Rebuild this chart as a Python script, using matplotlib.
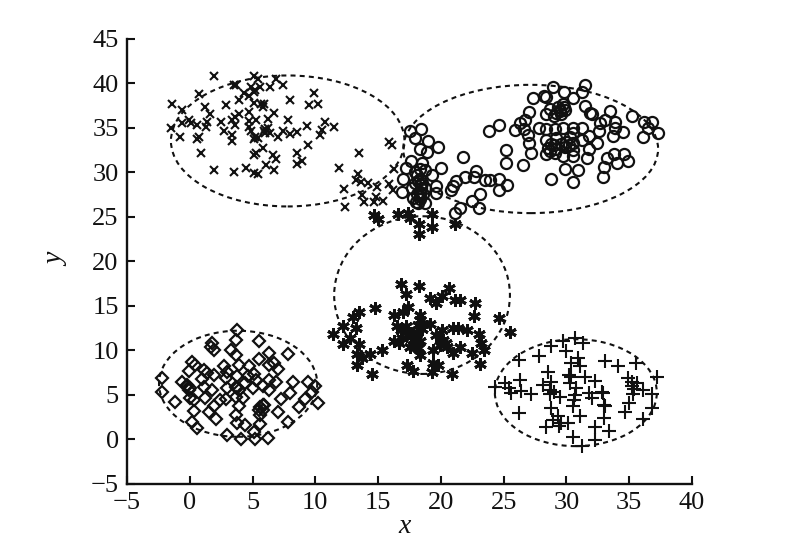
import matplotlib
matplotlib.use("Agg")
import matplotlib.pyplot as plt
from matplotlib.patches import Ellipse

cross_x = [1.9,5.1,5.4,6.9,7.4,3.5,3.7,6.4,5.6,4.9,5.2,4.3,5.1,4.7,0.7,3.9,9.9,8.0,-1.4,-0.6,1.2,2.9,5.1,5.7,5.9,5.8,9.5,10.2,1.6,6.7,4.7,3.9,3.6,3.4,-0.1,-0.6,0.1,0.6,1.4,1.3,2.5,3.6,5.3,6.2,7.8,4.7,4.7,10.8,9.3,11.5,-1.5,2.7,3.4,3.4,-0.8,0.7,0.6,4.9,5.2,5.1,5.4,6.0,6.4,7.0,7.4,8.0,8.5,10.5,10.4,9.4,15.9,16.1,0.9,5.8,5.3,5.1,6.6,6.9,8.5,8.9,8.5,13.5,1.9,3.5,4.5,5.1,5.4,6.1,6.7,11.9,16.3,13.4,13.2,13.6,14.2,14.9,12.3,15.9,16.2,13.7,14.8,13.9,14.7,15.4,12.4,5.9,6.2,6.0]
cross_y = [40.8,40.8,40.5,40.5,39.8,39.8,39.8,39.6,39.6,39.6,39.2,38.9,39.0,38.6,38.8,38.1,38.9,38.1,37.6,37.0,37.3,37.5,37.8,37.7,37.7,37.3,37.5,37.6,36.5,36.6,36.7,36.5,36.2,35.8,35.9,35.5,35.5,35.3,35.6,35.1,35.6,35.3,35.9,36.0,35.9,35.7,35.1,35.6,35.2,35.1,35.0,34.6,34.2,33.5,34.0,34.0,33.7,34.6,34.0,33.7,33.8,34.8,34.4,34.0,34.6,34.3,34.5,34.7,34.2,33.0,33.4,33.0,32.2,32.7,32.2,31.9,31.9,31.5,32.2,31.3,30.9,32.1,30.2,30.0,30.5,29.9,29.8,30.8,30.2,30.5,30.4,29.8,29.1,28.9,28.8,28.3,28.1,28.7,28.0,27.4,27.2,26.7,26.6,26.8,26.1,34.6,34.9,34.4]

circle_x = [17.5,18.4,17.9,19.0,19.8,18.3,18.9,21.8,20.0,17.6,18.5,17.2,19.3,18.1,18.3,17.0,17.7,18.7,19.6,19.6,16.9,17.8,18.3,18.2,18.7,18.4,18.3,17.9,20.8,21.0,21.2,21.9,22.8,22.6,23.5,23.9,24.6,25.3,24.6,23.1,22.5,21.5,21.1,23.0,23.8,24.6,25.2,25.2,26.5,28.8,30.5,29.9,30.9,32.9,33.0,33.2,34.0,33.8,34.6,34.9,25.9,26.3,26.7,26.6,26.9,27.0,27.2,27.0,27.3,28.2,28.4,28.9,29.8,30.5,31.2,31.5,31.5,31.9,32.0,33.5,35.2,36.2,36.8,33.1,32.7,33.9,32.6,34.5,33.7,33.9,36.1,37.3,36.5,28.4,28.7,29.7,29.5,29.9,29.0,29.2,29.6,27.8,28.4,29.1,29.7,30.5,31.2,28.4,29.2,30.3,30.5,31.2,31.8,32.4,31.8,31.6,28.4,29.1,29.7,30.5,30.5,29.9,28.5,30.5,29.0,18.2,18.5,18.4,18.1,18.6,18.3,18.0,17.9,18.7,18.3,28.7,29.2,29.6,30.0,30.2,28.8,29.5,29.8,29.3]
circle_y = [34.6,34.8,33.8,33.5,32.8,32.6,32.3,31.7,30.5,31.3,31.0,30.5,29.7,29.7,29.2,29.2,28.2,28.2,28.4,27.7,27.8,27.1,27.3,26.5,26.5,28.6,27.8,28.8,28.0,28.5,29.0,29.5,30.1,29.5,29.1,29.1,29.2,28.6,28.0,27.6,26.8,26.0,25.4,26.0,34.6,35.3,32.5,31.0,30.8,29.2,28.9,30.4,30.2,29.5,30.6,31.6,31.0,32.0,32.0,31.2,34.7,35.5,35.8,34.8,34.2,33.3,32.2,36.8,38.3,38.5,38.4,39.6,39.0,38.3,39.0,39.8,37.4,36.6,36.5,36.9,36.3,35.6,35.6,35.9,35.5,35.6,34.6,34.5,34.1,35.0,33.9,34.4,35.0,36.5,37.1,37.6,37.0,37.0,36.3,36.6,36.5,34.9,34.8,34.8,35.0,35.0,35.0,33.6,33.8,34.0,34.4,33.6,34.1,33.3,32.6,31.6,32.0,32.2,31.8,31.8,32.5,32.8,32.7,33.3,33.1,29.0,28.8,28.2,27.6,27.6,27.0,26.7,30.0,30.2,30.3,32.4,32.6,33.2,33.4,33.0,33.2,36.9,37.3,37.3]

diamond_x = [3.8,3.7,5.5,1.8,1.7,1.9,3.3,3.65,6.3,7.8,5.5,0.15,0.4,1.1,1.4,-0.1,2.7,3.0,3.9,4.7,6.3,6.7,7.05,1.9,-2.2,1.0,-0.65,-0.25,2.9,3.8,4.6,5.1,5.3,6.3,6.9,8.2,9.4,9.97,3.0,3.8,4.4,5.0,5.8,6.3,1.8,1.1,-0.1,-2.2,-1.2,0.0,0.3,1.2,2.4,2.9,3.7,4.2,8.0,7.3,9.2,9.7,10.2,8.7,7.05,5.8,5.5,5.85,3.9,1.9,1.5,2.1,0.3,3.65,5.6,7.8,0.15,0.55,3.8,4.4,5.6,3.0,4.1,5.1,5.2,6.2,-0.2,0.0,3.7,3.9,5.6,5.9]
diamond_y = [12.3,11.2,11.0,10.8,10.4,10.0,10.0,9.5,9.7,9.6,9.0,8.7,8.4,7.8,7.5,7.7,8.2,7.6,8.3,8.2,8.3,8.6,7.9,7.2,6.9,6.8,6.5,6.1,6.9,7.1,7.1,7.4,6.7,6.7,6.5,6.5,6.5,6.0,5.75,5.75,6.3,5.75,6.0,5.6,5.6,5.9,5.6,5.3,4.25,4.7,4.4,4.7,4.4,4.5,4.8,4.7,5.2,4.5,4.5,5.3,4.1,3.6,3.1,3.9,3.3,3.3,3.7,3.7,3.1,2.3,3.2,2.75,2.75,2.0,2.0,1.25,1.8,1.6,1.7,0.5,0.1,0.8,0.0,0.2,6.0,5.8,5.9,5.6,3.6,3.9]

star_x = [14.7,15.0,16.55,17.4,17.5,19.3,18.25,19.3,18.25,21.1,16.8,18.25,20.65,17.2,20.05,21.1,21.5,22.7,19.1,19.65,14.75,13.5,13.0,17.4,17.0,16.3,18.3,18.3,22.6,24.6,12.2,13.2,16.5,17.2,19.1,11.4,25.5,20.05,21.0,21.4,22.1,23.0,12.75,12.2,13.5,16.3,16.9,17.5,18.1,17.8,18.3,19.65,20.2,20.45,21.5,23.2,23.45,15.3,13.3,14.35,13.7,13.3,18.2,18.3,19.4,21.0,22.45,23.1,17.3,17.8,19.4,19.8,19.3,20.85,14.5,18.1,17.5,16.7,17.6,18.0,17.9,17.3,18.5,16.8,18.6,18.2,20.0,20.4,19.9]
star_y = [25.2,24.7,25.3,25.4,24.85,25.3,24.2,23.8,23.05,24.2,17.5,17.2,17.0,16.35,16.1,15.7,15.6,15.3,15.9,15.3,14.7,14.25,13.7,14.9,14.35,14.0,14.0,13.4,13.9,13.6,12.75,12.5,12.75,12.75,13.0,11.85,12.1,12.3,12.5,12.5,12.3,11.8,11.35,10.7,10.7,11.0,11.35,11.9,11.9,11.2,11.0,11.7,11.2,10.4,10.4,10.8,10.05,10.05,9.6,9.6,9.1,8.4,10.25,9.5,10.05,9.7,9.75,8.45,8.35,7.7,8.6,8.35,7.6,7.35,7.35,10.4,10.4,10.8,11.6,11.5,10.8,12.2,12.4,12.3,13.0,12.8,11.0,10.8,10.6]

plus_x = [30.7,29.7,31.3,28.8,29.95,27.8,26.2,30.9,30.4,31.05,33.1,34.1,35.5,28.55,30.2,31.45,34.9,37.25,26.3,32.3,35.2,24.3,25.1,25.4,28.15,28.8,30.3,30.8,35.6,36.1,25.55,26.4,27.2,28.7,29.5,30.7,31.8,32.8,32.0,35.3,36.8,35.0,33.05,28.8,30.5,26.2,34.7,36.85,31.05,29.35,33.0,36.1,29.6,28.4,30.1,32.3,33.4,29.4,30.5,32.3,31.2,28.9,28.7,29.0,30.4,30.6,35.2,35.4,32.9,33.0]
plus_y = [11.4,11.0,10.8,10.5,9.9,9.4,8.9,9.1,8.6,8.2,8.75,8.2,8.6,7.6,7.25,7.05,6.9,7.05,6.7,6.6,6.5,5.9,6.3,5.75,6.1,6.5,6.3,5.75,6.3,5.6,5.2,5.4,5.1,5.1,4.75,5.0,5.2,5.3,4.6,5.1,5.1,4.1,3.8,3.5,3.7,2.95,3.1,3.5,2.65,2.6,2.4,2.3,1.8,1.4,1.8,1.4,1.0,1.5,0.3,-0.1,-0.75,2.2,5.5,5.3,7.0,4.4,6.0,5.7,5.2,3.9]

ell_cx = [7.8, 27.15, 3.85, 18.5, 30.75]
ell_cy = [33.5, 32.6, 6.25, 16.2, 5.25]
ell_w = [18.6, 20.3, 12.6, 14.0, 12.9]
ell_h = [14.7, 14.4, 11.9, 17.7, 12.0]

x_ticks = [-5, 0, 5, 10, 15, 20, 25, 30, 35, 40]
y_ticks = [-5, 0, 5, 10, 15, 20, 25, 30, 35, 40, 45]

plt.rcParams["font.family"] = ["Liberation Serif", "DejaVu Serif"]
fig = plt.figure(figsize=(8, 5.4), dpi=100)
ax = fig.add_axes([127/800, 56/540, 565/800, 445.5/540])

for cx, cy, w, h in zip(ell_cx, ell_cy, ell_w, ell_h):
    ax.add_patch(Ellipse((cx, cy), w, h, fill=False, ec="#111111", lw=1.5,
                         ls=(0, (2.4, 2.0)), zorder=1))

mk = dict(ls="none", color="#111111", zorder=2, clip_on=False)
ax.plot(cross_x, cross_y, marker="x", ms=5.2, mew=1.5, **mk)
ax.plot(circle_x, circle_y, marker="o", ms=8, mew=1.6, mfc="none", **mk)
ax.plot(diamond_x, diamond_y, marker="D", ms=6.2, mew=1.6, mfc="none", **mk)
ax.plot(star_x, star_y, marker=(6, 2, 0), ms=9, mew=2.1, **mk)
ax.plot(plus_x, plus_y, marker="+", ms=9.5, mew=1.5, **mk)

ax.set_xlim(-5, 40)
ax.set_ylim(-5, 45)
ax.set_xticks(x_ticks)
ax.set_yticks(y_ticks)
ax.set_xticklabels([str(v).replace("-", "\u2212") for v in x_ticks])
ax.set_yticklabels([str(v).replace("-", "\u2212") for v in y_ticks])
ax.tick_params(direction="in", length=6, width=1.5, color="#111111",
               labelsize=19, labelcolor="#111111", pad=6)
for s in ("top", "right"):
    ax.spines[s].set_visible(False)
for s in ("left", "bottom"):
    ax.spines[s].set_linewidth(1.7)
    ax.spines[s].set_color("#111111")

ax.set_xlabel("x", style="italic", fontsize=20, color="#111111", va="center")
ax.xaxis.set_label_coords(0.492, -0.0965)
ax.set_ylabel("y", style="italic", fontsize=20, color="#111111", va="center")
ax.yaxis.set_label_coords(-0.124, 0.503)

fig.savefig("out.png", dpi=100)
